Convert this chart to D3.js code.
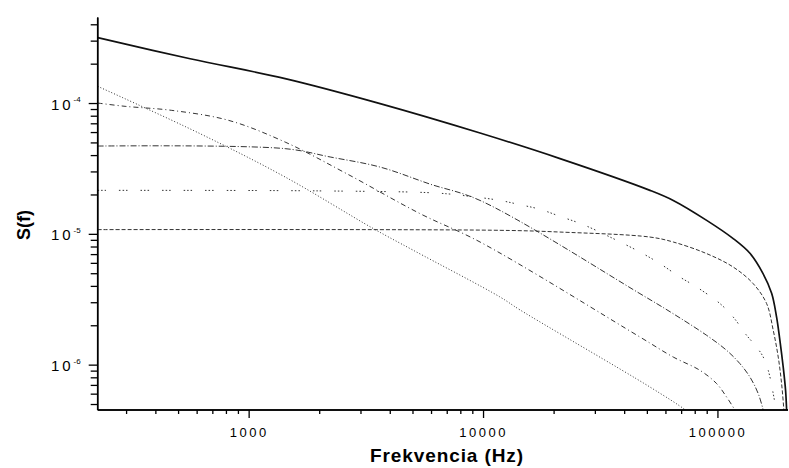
<!DOCTYPE html>
<html>
<head>
<meta charset="utf-8">
<script src="https://cdn.jsdelivr.net/npm/d3@7"></script>
<style>
body { margin: 0; background: #fff; }
svg { display: block; font-family: "Liberation Sans", Arial, sans-serif; }
</style>
</head>
<body>
<svg id="output" width="789" height="468"></svg>
<script>
// spectra: [frequency Hz, S(f)]
var total = [[227, 3.16e-4], [563, 2.18e-4], [1431, 1.537e-4], [3637, 9.9e-5], [9710, 5.9e-5], [21300, 3.76e-5],
    [51550, 2.15e-5], [64790, 1.8e-5], [89950, 1.268e-5], [116400, 9.24e-6], [137600, 7.1e-6],
    [156300, 4.99e-6], [170300, 3.51e-6], [178800, 2.31e-6], [184700, 1.534e-6], [190800, 9.59e-7],
    [195300, 6.36e-7], [197300, 4.5e-7], [199000, 3.0e-7]];
var s1 = [[227, 1.342e-4], [621, 5.83e-5], [1431, 2.72e-5], [3406, 1.096e-5], [5045, 7.48e-6],
    [11815, 3.29e-6], [14381, 2.62e-6], [51550, 6.74e-7], [73000, 4.5e-7], [80000, 3.9e-7]];
var s2 = [[227, 1.0e-4], [297, 9.44e-5], [470, 8.79e-5], [820, 7.38e-5], [1431, 5.03e-5],
    [2623, 2.88e-5], [5387, 1.427e-5], [9710, 8.66e-6], [46710, 1.626e-6], [64790, 1.143e-6],
    [84200, 9.05e-7], [99220, 7.16e-7], [109440, 5.65e-7], [118780, 4.5e-7], [125000, 3.9e-7]];
var s3 = [[227, 4.69e-5], [1431, 4.48e-5], [2226, 3.87e-5], [3637, 3.24e-5], [5943, 2.4e-5],
    [9710, 1.8e-5], [46710, 3.49e-6], [64790, 2.45e-6], [89950, 1.675e-6], [109440, 1.286e-6],
    [124700, 1.018e-6], [137600, 8.04e-7], [149300, 6.0e-7], [156800, 4.5e-7], [160000, 3.9e-7]];
var s4 = [[227, 2.15e-5], [2000, 2.13e-5], [6346, 2.05e-5], [8802, 1.935e-5], [11815, 1.8e-5],
    [14381, 1.67e-5], [17503, 1.54e-5], [21301, 1.36e-5], [26777, 1.175e-5], [35950, 9.19e-6],
    [46710, 7.26e-6], [56860, 5.92e-6], [69210, 4.67e-6], [81520, 3.92e-6], [102500, 2.93e-6],
    [116800, 2.31e-6], [133200, 1.675e-6], [146990, 1.363e-6], [156800, 1.143e-6], [164700, 9.05e-7],
    [173000, 6.0e-7], [177600, 4.5e-7], [179500, 3.8e-7]];
var s5 = [[227, 1.077e-5], [11815, 1.064e-5], [21301, 1.032e-5], [51550, 9.45e-6], [64790, 8.66e-6],
    [89950, 7.06e-6], [116800, 5.57e-6], [142100, 4.16e-6], [162100, 2.93e-6], [173000, 1.83e-6],
    [181700, 1.143e-6], [187800, 7.16e-7], [192100, 4.5e-7], [193500, 3.8e-7]];

var series = [total, s1, s2, s3, s4, s5];
var dashes = [null, "1,2", "5,3,1,3", "6,2,1,2", "1.5,2,1.5,2,1.5,13", "4,2"];
var widths = [1.7, 1, 1, 1, 1, 1];

var xMajor = [1000, 10000, 100000];
var yMajor = [1e-6, 1e-5, 1e-4];
var yExp = ["-6", "-5", "-4"];

var svg = d3.select('#output');
var x = d3.scaleLog().domain([227, 200000]).range([97.7, 788]);
var y = d3.scaleLog().domain([4.5e-7, 4.5e-4]).range([410, 17.6]);

// minor ticks for each decade
var xMinor = [], yMinor = [];
for (var e = 2; e <= 5; e++)
    for (var m = 2; m <= 9; m++) {
        var v = m * Math.pow(10, e);
        if (v > 227 && v < 200000) xMinor.push(v);
    }
for (var e = -7; e <= -4; e++)
    for (var m = 2; m <= 9; m++) {
        var v = m * Math.pow(10, e);
        if (v >= 4.5e-7 && v <= 4.5e-4) yMinor.push(v);
    }

svg.append('clipPath').attr('id', 'clip').append('rect')
    .attr('x', 97.7).attr('y', 17.6).attr('width', 691).attr('height', 392.4);

var line = d3.line().x(function (d) { return x(d[0]); }).y(function (d) { return y(d[1]); })
    .curve(d3.curveCatmullRom.alpha(0.5));

var plot = svg.append('g').attr('clip-path', 'url(#clip)');
for (var i = series.length - 1; i >= 0; i--) {
    plot.append('path').datum(series[i]).attr('d', line)
        .attr('fill', 'none').attr('stroke', i == 0 ? '#111' : '#333')
        .attr('stroke-width', widths[i])
        .attr('stroke-dasharray', dashes[i]);
}

// x axis
var gx = svg.append('g').attr('transform', 'translate(0,410)');
gx.call(d3.axisBottom(x).tickValues(xMinor).tickSize(4).tickFormat(function () { return ''; }));
gx.append('g').call(d3.axisBottom(x).tickValues(xMajor).tickSize(8).tickPadding(10)
    .tickFormat(function (d) { return d3.format('d')(d); }));
gx.selectAll('.domain').attr('stroke', '#000').attr('stroke-width', 1.5).attr('d', 'M97.7,0H788');
gx.selectAll('.tick line').attr('stroke', '#000').attr('stroke-width', 1.3);
gx.selectAll('.tick text').attr('fill', '#000').attr('font-size', 13).attr('letter-spacing', 2.5)
    .attr('font-family', '"Liberation Sans", Arial, sans-serif');

// y axis
var gy = svg.append('g').attr('transform', 'translate(97.7,0)');
gy.call(d3.axisLeft(y).tickValues(yMinor).tickSize(7).tickFormat(function () { return ''; }));
var gyMaj = gy.append('g').call(d3.axisLeft(y).tickValues(yMajor).tickSize(9).tickPadding(8)
    .tickFormat(function () { return ''; }));
gy.selectAll('.domain').attr('stroke', '#000').attr('stroke-width', 1.5).attr('d', 'M0,17.6V410');
gy.selectAll('.tick line').attr('stroke', '#000').attr('stroke-width', 1.3);
gyMaj.selectAll('.tick text').each(function (d, i) {
    var t = d3.select(this).attr('fill', '#000').attr('font-size', 15)
        .attr('font-family', '"Liberation Sans", Arial, sans-serif').attr('dy', '0.4em');
    t.append('tspan').attr('letter-spacing', 3).text('10');
    t.append('tspan').attr('font-size', 8).attr('dy', '-0.9em').text(yExp[i]);
});

// titles
svg.append('text').attr('x', 447).attr('y', 462).attr('text-anchor', 'middle')
    .attr('font-size', 19).attr('font-weight', 'bold').attr('letter-spacing', 0.9)
    .text('Frekvencia (Hz)');
svg.append('text').attr('transform', 'translate(30,225) rotate(-90)').attr('text-anchor', 'middle')
    .attr('font-size', 18).attr('font-weight', 'bold').text('S(f)');
</script>
</body>
</html>
